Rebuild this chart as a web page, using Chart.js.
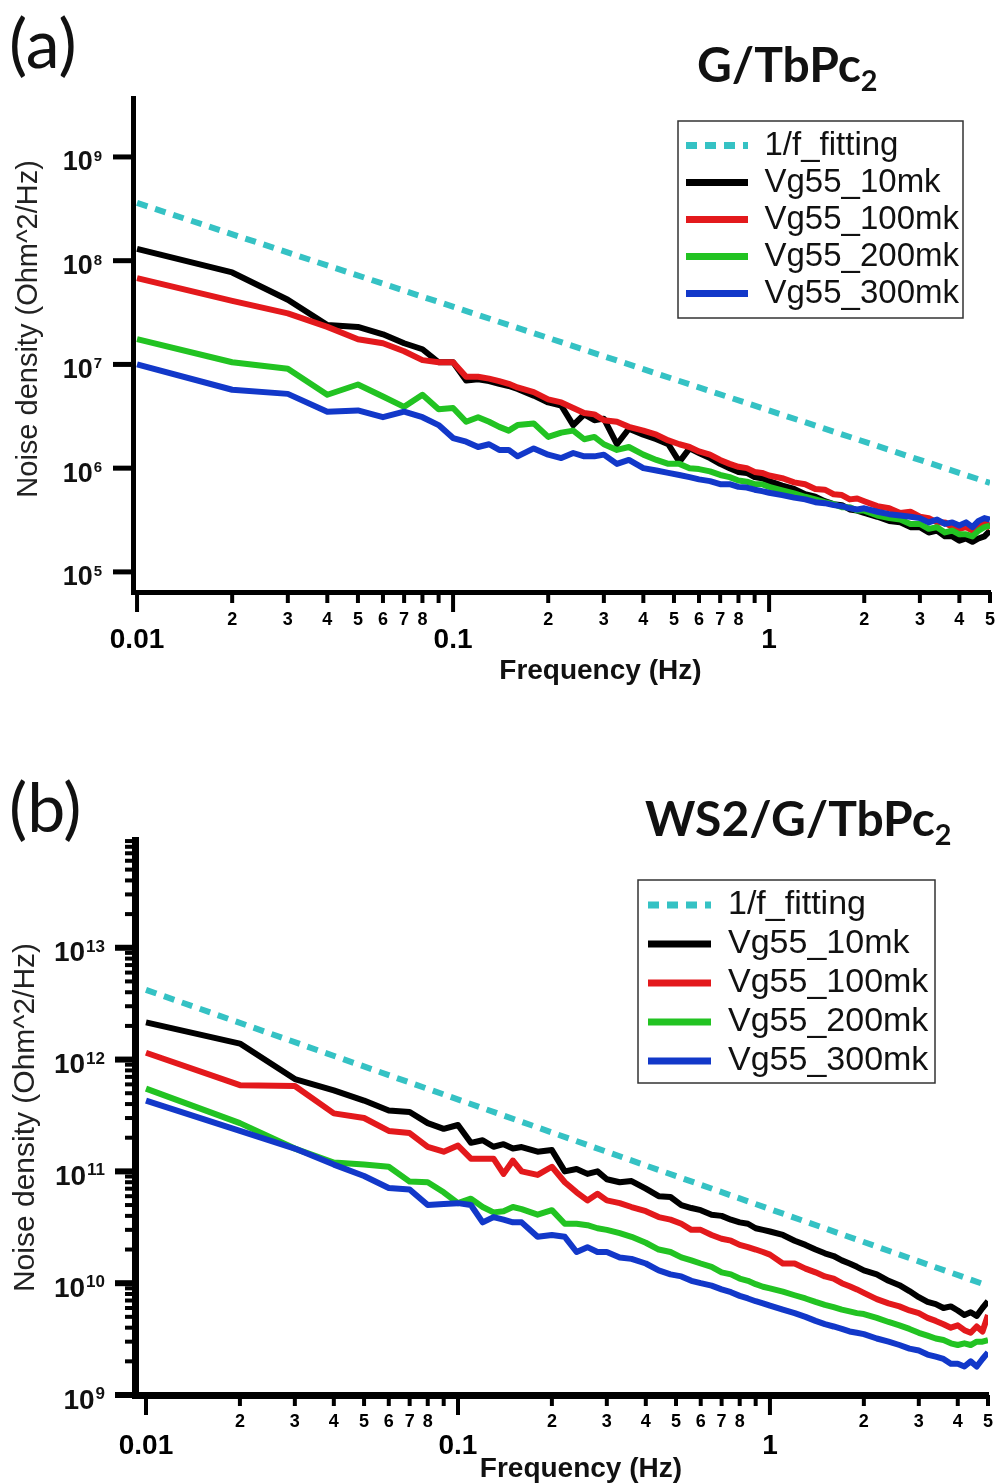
<!DOCTYPE html>
<html>
<head>
<meta charset="utf-8">
<script src="https://cdn.jsdelivr.net/npm/chart.js@4.4.1/dist/chart.umd.min.js"></script>
<style>
  body { margin: 0; background: #fff; width: 995px; height: 1483px; position: relative; overflow: hidden; }
  canvas { position: absolute; left: 0; }
  .lab { position: absolute; font-family: Lato, 'Open Sans', sans-serif; color: #111; line-height: 1; white-space: nowrap; }
  .panel { font-size: 68px; }
  .sample { font-weight: bold; font-size: 48px; }
  .sample sub { font-size: 0.6em; vertical-align: -0.3em; }
</style>
</head>
<body>
<canvas id="chartA" width="995" height="700" style="top:0"></canvas>
<canvas id="chartB" width="995" height="743" style="top:740px"></canvas>
<div class="lab panel" style="left:9px; top:8px">(a)</div>
<div class="lab sample" style="left:697px; top:40px">G/TbPc<sub>2</sub></div>
<div class="lab panel" style="left:9px; top:772px">(b)</div>
<div class="lab sample" style="left:645px; top:794px">WS2/G/TbPc<sub>2</sub></div>
<script>
const seriesNames = ['1/f_fitting', 'Vg55_10mk', 'Vg55_100mk', 'Vg55_200mk', 'Vg55_300mk'];
const seriesColors = ['#35c2c4', '#000000', '#e3191c', '#22c322', '#1238c9'];

// frequency (Hz) of the plotted points
const freq = [0.01, 0.02, 0.03, 0.04, 0.05, 0.06, 0.07, 0.08, 0.09, 0.10,
  0.11, 0.12, 0.13, 0.14, 0.15, 0.16, 0.18, 0.20, 0.22, 0.24,
  0.26, 0.28, 0.30, 0.33, 0.36, 0.40, 0.44, 0.48, 0.52, 0.56,
  0.60, 0.65, 0.70, 0.75, 0.80, 0.85, 0.90, 0.95, 1.0, 1.1,
  1.2, 1.3, 1.4, 1.5, 1.6, 1.7, 1.8, 1.9, 2.0, 2.2,
  2.4, 2.6, 2.8, 3.0, 3.2, 3.4, 3.6, 3.8, 4.0, 4.2,
  4.4, 4.6, 4.8, 5.0];
const fitFreq = [0.01, 5];

// (a) G/TbPc2
const fitA = [3.6e8, 7.2e5];
const a10mk = [1.3e8, 7.7e7, 4.2e7, 2.4e7, 2.3e7, 1.95e7, 1.6e7, 1.4e7, 1.05e7, 1.05e7,
  7.0e6, 7.2e6, 6.9e6, 6.5e6, 6.2e6, 5.8e6, 5.0e6, 4.3e6, 4.0e6, 2.6e6,
  3.3e6, 2.9e6, 3.0e6, 1.7e6, 2.4e6, 2.1e6, 1.9e6, 1.7e6, 1.15e6, 1.55e6,
  1.4e6, 1.25e6, 1.1e6, 1.0e6, 9.2e5, 9.0e5, 8.2e5, 8.0e5, 7.5e5, 6.8e5,
  6.3e5, 5.6e5, 5.3e5, 4.8e5, 4.5e5, 4.4e5, 4.0e5, 3.9e5, 3.7e5, 3.4e5,
  3.1e5, 3.0e5, 2.7e5, 2.7e5, 2.4e5, 2.5e5, 2.2e5, 2.2e5, 2.0e5, 2.1e5,
  1.95e5, 2.1e5, 2.2e5, 2.5e5];
const a100mk = [6.8e7, 4.1e7, 3.1e7, 2.3e7, 1.75e7, 1.6e7, 1.34e7, 1.1e7, 1.05e7, 1.05e7,
  7.6e6, 7.6e6, 7.3e6, 6.9e6, 6.5e6, 6.0e6, 5.4e6, 4.6e6, 4.3e6, 3.8e6,
  3.4e6, 3.3e6, 2.9e6, 2.8e6, 2.5e6, 2.3e6, 2.1e6, 1.85e6, 1.7e6, 1.6e6,
  1.45e6, 1.35e6, 1.2e6, 1.1e6, 1.03e6, 1.0e6, 9.2e5, 9.0e5, 8.5e5, 8.0e5,
  7.3e5, 7.0e5, 6.3e5, 6.2e5, 5.6e5, 5.5e5, 5.0e5, 5.1e5, 4.8e5, 4.3e5,
  4.1e5, 3.7e5, 3.8e5, 3.4e5, 3.3e5, 3.0e5, 3.0e5, 2.7e5, 2.6e5, 2.7e5,
  2.5e5, 2.6e5, 3.2e5, 2.6e5];
const a200mk = [1.75e7, 1.05e7, 9.1e6, 5.1e6, 6.4e6, 4.9e6, 3.9e6, 5.1e6, 3.7e6, 3.8e6,
  2.8e6, 3.1e6, 2.8e6, 2.5e6, 2.3e6, 2.6e6, 2.7e6, 2.0e6, 2.2e6, 2.3e6,
  1.9e6, 2.0e6, 1.7e6, 1.5e6, 1.6e6, 1.35e6, 1.2e6, 1.1e6, 1.1e6, 1.0e6,
  9.8e5, 9.3e5, 8.6e5, 8.2e5, 7.6e5, 7.4e5, 7.0e5, 7.0e5, 6.6e5, 6.1e5,
  5.7e5, 5.3e5, 5.0e5, 4.7e5, 4.5e5, 4.2e5, 4.2e5, 3.9e5, 3.9e5, 3.5e5,
  3.3e5, 3.2e5, 2.9e5, 2.9e5, 2.6e5, 2.7e5, 2.4e5, 2.5e5, 2.3e5, 2.3e5,
  2.2e5, 2.5e5, 2.7e5, 2.8e5];
const a300mk = [1.0e7, 5.7e6, 5.2e6, 3.5e6, 3.6e6, 3.1e6, 3.5e6, 3.1e6, 2.6e6, 1.95e6,
  1.8e6, 1.6e6, 1.7e6, 1.5e6, 1.5e6, 1.3e6, 1.55e6, 1.35e6, 1.25e6, 1.4e6,
  1.3e6, 1.3e6, 1.35e6, 1.1e6, 1.2e6, 1.0e6, 9.5e5, 9.0e5, 8.6e5, 8.2e5,
  7.8e5, 7.5e5, 7.0e5, 7.0e5, 6.6e5, 6.5e5, 6.2e5, 6.0e5, 5.8e5, 5.5e5,
  5.2e5, 5.0e5, 4.7e5, 4.6e5, 4.4e5, 4.3e5, 4.1e5, 4.0e5, 4.1e5, 3.8e5,
  3.6e5, 3.5e5, 3.4e5, 3.3e5, 3.0e5, 3.2e5, 2.9e5, 3.0e5, 2.8e5, 3.0e5,
  2.7e5, 3.1e5, 3.3e5, 3.2e5];

// (b) WS2/G/TbPc2
const fitB = [4.2e12, 9.5e9];
const b10mk = [2.15e12, 1.39e12, 6.7e11, 5.3e11, 4.3e11, 3.5e11, 3.4e11, 2.7e11, 2.4e11, 2.6e11,
  1.8e11, 1.9e11, 1.66e11, 1.75e11, 1.6e11, 1.65e11, 1.5e11, 1.55e11, 1.0e11, 1.05e11,
  9.5e10, 1.0e11, 8.5e10, 8.0e10, 8.2e10, 7.0e10, 6.0e10, 5.9e10, 5.0e10, 4.7e10,
  4.5e10, 4.1e10, 4.0e10, 3.7e10, 3.5e10, 3.4e10, 3.1e10, 3.0e10, 2.9e10, 2.7e10,
  2.4e10, 2.2e10, 2.0e10, 1.85e10, 1.75e10, 1.6e10, 1.5e10, 1.4e10, 1.3e10, 1.2e10,
  1.05e10, 9.6e9, 8.5e9, 7.5e9, 6.8e9, 6.5e9, 6.0e9, 6.2e9, 5.7e9, 5.2e9,
  5.5e9, 5.1e9, 6.0e9, 6.9e9];
const b100mk = [1.15e12, 5.9e11, 5.8e11, 3.3e11, 3.0e11, 2.3e11, 2.2e11, 1.66e11, 1.5e11, 1.7e11,
  1.3e11, 1.3e11, 1.3e11, 9.5e10, 1.25e11, 1.0e11, 9.3e10, 1.1e11, 8.0e10, 6.5e10,
  5.5e10, 6.3e10, 5.5e10, 5.2e10, 4.8e10, 4.4e10, 3.9e10, 3.7e10, 3.4e10, 3.0e10,
  3.0e10, 2.7e10, 2.5e10, 2.4e10, 2.2e10, 2.1e10, 2.0e10, 1.9e10, 1.8e10, 1.5e10,
  1.5e10, 1.35e10, 1.25e10, 1.15e10, 1.1e10, 1.0e10, 9.4e9, 8.8e9, 8.2e9, 7.2e9,
  6.6e9, 6.2e9, 5.7e9, 5.4e9, 4.9e9, 4.6e9, 4.3e9, 4.0e9, 4.2e9, 3.8e9,
  3.6e9, 4.1e9, 3.7e9, 5.2e9];
const b200mk = [5.5e11, 2.7e11, 1.6e11, 1.2e11, 1.15e11, 1.1e11, 8.1e10, 8.0e10, 6.5e10, 5.2e10,
  5.7e10, 4.8e10, 4.3e10, 4.4e10, 4.8e10, 4.6e10, 4.1e10, 4.5e10, 3.4e10, 3.4e10,
  3.3e10, 3.1e10, 3.0e10, 2.8e10, 2.6e10, 2.3e10, 2.0e10, 1.9e10, 1.7e10, 1.6e10,
  1.5e10, 1.4e10, 1.25e10, 1.2e10, 1.1e10, 1.05e10, 9.8e9, 9.3e9, 9.0e9, 8.4e9,
  7.8e9, 7.3e9, 6.8e9, 6.4e9, 6.1e9, 5.8e9, 5.6e9, 5.4e9, 5.3e9, 4.9e9,
  4.5e9, 4.2e9, 3.9e9, 3.6e9, 3.4e9, 3.2e9, 3.1e9, 2.9e9, 2.8e9, 2.9e9,
  2.8e9, 3.0e9, 3.0e9, 3.1e9];
const b300mk = [4.3e11, 2.3e11, 1.6e11, 1.15e11, 9.1e10, 7.1e10, 6.9e10, 5.0e10, 5.1e10, 5.2e10,
  5.0e10, 3.5e10, 3.9e10, 3.7e10, 3.5e10, 3.5e10, 2.6e10, 2.7e10, 2.6e10, 1.9e10,
  2.1e10, 1.9e10, 1.9e10, 1.7e10, 1.65e10, 1.5e10, 1.3e10, 1.2e10, 1.15e10, 1.05e10,
  1.0e10, 9.5e9, 8.8e9, 8.3e9, 7.7e9, 7.3e9, 6.9e9, 6.6e9, 6.3e9, 5.8e9,
  5.4e9, 5.0e9, 4.6e9, 4.3e9, 4.1e9, 3.9e9, 3.7e9, 3.6e9, 3.5e9, 3.2e9,
  3.0e9, 2.8e9, 2.6e9, 2.5e9, 2.3e9, 2.2e9, 2.1e9, 1.9e9, 1.9e9, 1.8e9,
  2.0e9, 1.8e9, 2.1e9, 2.4e9];

// axis ticks
const xTicks = [0.01, 0.02, 0.03, 0.04, 0.05, 0.06, 0.07, 0.08, 0.09,
  0.1, 0.2, 0.3, 0.4, 0.5, 0.6, 0.7, 0.8, 0.9, 1, 2, 3, 4, 5];
const xMajorTicks = [0.01, 0.1, 1];
const yTicksA = [1e5, 1e6, 1e7, 1e8, 1e9];
const yTicksB = [1e9, 2e9, 3e9, 4e9, 5e9, 6e9, 7e9, 8e9, 9e9,
  1e10, 2e10, 3e10, 4e10, 5e10, 6e10, 7e10, 8e10, 9e10,
  1e11, 2e11, 3e11, 4e11, 5e11, 6e11, 7e11, 8e11, 9e11,
  1e12, 2e12, 3e12, 4e12, 5e12, 6e12, 7e12, 8e12, 9e12,
  1e13, 2e13, 3e13, 4e13, 5e13, 6e13, 7e13, 8e13, 9e13];

const ARIAL = "'Liberation Sans', Arial, sans-serif";

function isDecade(v) {
  const l = Math.log10(v);
  return Math.abs(l - Math.round(l)) < 1e-9;
}
function minorLabel(v) {
  if (isDecade(v)) return '';
  const d = Math.round(v / Math.pow(10, Math.floor(Math.log10(v) + 1e-9)));
  return d === 9 ? '' : String(d);
}
function pts(xs, ys) {
  return xs.map((x, i) => ({x: x, y: ys[i]}));
}

// tick marks (major longer), 10^n labels with raised exponent, legend frame
const axisDecor = {
  id: 'axisDecor',
  afterDraw(chart, args, o) {
    const ctx = chart.ctx, a = chart.chartArea;
    const xs = chart.scales.x, ys = chart.scales.y;
    ctx.save();
    ctx.strokeStyle = '#000';
    xs.ticks.forEach(t => {
      const px = xs.getPixelForValue(t.value);
      const major = isDecade(t.value);
      ctx.lineWidth = major ? o.xMajorW : o.xMinorW;
      ctx.beginPath();
      ctx.moveTo(px, a.bottom);
      ctx.lineTo(px, a.bottom + (major ? o.xMajor : o.xMinor));
      ctx.stroke();
    });
    ys.ticks.forEach(t => {
      const py = ys.getPixelForValue(t.value);
      const major = isDecade(t.value);
      ctx.lineWidth = major ? o.yMajorW : o.yMinorW;
      ctx.beginPath();
      ctx.moveTo(a.left, py);
      ctx.lineTo(a.left - (major ? o.yMajor : o.yMinor), py);
      ctx.stroke();
      if (!major) return;
      const e = String(Math.round(Math.log10(t.value)));
      const right = a.left - o.labGap;
      ctx.fillStyle = '#111';
      ctx.textAlign = 'right';
      ctx.textBaseline = 'alphabetic';
      ctx.font = 'bold ' + o.expSize + 'px ' + ARIAL;
      const ew = ctx.measureText(e).width;
      ctx.fillText(e, right, py + 4);
      ctx.font = 'bold ' + o.baseSize + 'px ' + ARIAL;
      ctx.textBaseline = 'middle';
      ctx.fillText('10', right - ew - 1, py + 6);
    });
    ctx.lineWidth = 1.5;
    ctx.strokeStyle = '#333';
    ctx.strokeRect(o.frame[0], o.frame[1], o.frame[2], o.frame[3]);
    ctx.restore();
  }
};

// move the legend inside the plot, top right
const placeLegend = {
  id: 'placeLegend',
  afterLayout(chart, args, o) {
    chart.legend.left = o.left;
    chart.legend.top = o.top;
  }
};

function makeChart(id, p) {
  const sets = [p.fit, p.s10, p.s100, p.s200, p.s300];
  const datasets = sets.map((vals, i) => ({
    label: seriesNames[i],
    data: pts(i === 0 ? fitFreq : freq, vals),
    borderColor: seriesColors[i],
    backgroundColor: seriesColors[i],
    borderWidth: 6,
    borderDash: i === 0 ? [11, 8] : [],
    borderJoinStyle: 'round',
    pointRadius: 0,
    tension: 0,
    order: i === 0 ? 0 : 5 - i
  }));

  const noSidePad = s => { s.paddingLeft = 0; s.paddingRight = 0; };

  return new Chart(document.getElementById(id), {
    type: 'line',
    data: {datasets: datasets},
    plugins: [axisDecor, placeLegend],
    options: {
      responsive: false,
      animation: false,
      layout: {padding: {top: p.padTop, right: p.padRight, left: 0, bottom: 0}},
      plugins: {
        tooltip: {enabled: false},
        legend: {
          position: 'chartArea',
          align: 'start',
          labels: {
            usePointStyle: true,
            pointStyle: 'line',
            pointStyleWidth: p.legendLine,
            padding: p.legendPad,
            color: '#111',
            font: {family: ARIAL, size: p.legendFont},
            sort: (a, b) => a.datasetIndex - b.datasetIndex,
            generateLabels: chart => Chart.defaults.plugins.legend.labels.generateLabels(chart)
              .map(it => Object.assign(it, {
                lineWidth: 7,
                lineDash: chart.data.datasets[it.datasetIndex].borderDash
              }))
          }
        },
        placeLegend: p.legendPos,
        axisDecor: p.marks
      },
      scales: {
        x: {
          type: 'logarithmic',
          min: p.xMin, max: 5,
          weight: 0,
          afterBuildTicks: s => { s.ticks = xTicks.map(v => ({value: v})); },
          afterFit: s => { s.height = p.xH; noSidePad(s); },
          border: {display: true, width: p.axisW, color: '#000'},
          grid: {display: false, drawTicks: false},
          ticks: {
            autoSkip: false, maxRotation: 0, padding: p.xPad, color: '#000',
            font: {family: ARIAL, size: 18, weight: 'bold'},
            callback: v => minorLabel(v)
          }
        },
        x2: {
          type: 'logarithmic',
          position: 'bottom',
          min: p.xMin, max: 5,
          weight: 1,
          afterBuildTicks: s => { s.ticks = xMajorTicks.map(v => ({value: v})); },
          afterFit: s => { s.height = p.x2H; noSidePad(s); },
          border: {display: false},
          grid: {display: false, drawTicks: false},
          ticks: {
            autoSkip: false, maxRotation: 0, padding: p.x2Pad, color: '#000',
            font: {family: ARIAL, size: 28, weight: 'bold', lineHeight: 1},
            callback: v => String(v)
          },
          title: {
            display: true, text: p.xTitle, color: '#111',
            font: {family: ARIAL, size: 28, weight: 'bold', lineHeight: 1},
            padding: {top: 0, bottom: p.titlePad}
          }
        },
        y: {
          type: 'logarithmic',
          min: p.yMin, max: p.yMax,
          afterBuildTicks: s => { s.ticks = p.yTicks.map(v => ({value: v})); },
          afterFit: s => { s.width = p.yW; },
          border: {display: true, width: p.axisW, color: '#000'},
          grid: {display: false, drawTicks: false},
          ticks: {display: false},
          title: {
            display: true, text: p.yTitle, color: '#222',
            font: {family: ARIAL, size: p.yTitleFont},
            padding: {top: p.yTitlePad, bottom: 0}
          }
        }
      }
    }
  });
}

makeChart('chartA', {
  fit: fitA, s10: a10mk, s100: a100mk, s200: a200mk, s300: a300mk,
  xMin: 0.00971, yMin: 6.4e4, yMax: 3.7e9, yTicks: yTicksA,
  padTop: 98, padRight: 5, yW: 133, xH: 36, x2H: 72,
  xPad: 17, x2Pad: -2, titlePad: 15, yTitleFont: 29, yTitlePad: 12,
  xTitle: '          Frequency (Hz)', yTitle: '    Noise density (Ohm^2/Hz)',
  axisW: 5, legendFont: 33, legendPad: 4, legendLine: 62,
  legendPos: {left: 682, top: 125},
  marks: {xMajor: 20, xMinor: 11, xMajorW: 4, xMinorW: 4, yMajor: 20, yMinor: 10, yMajorW: 5, yMinorW: 4,
    labGap: 31, baseSize: 27, expSize: 15, frame: [678, 121, 285, 197]}
});

makeChart('chartB', {
  fit: fitB, s10: b10mk, s100: b100mk, s200: b200mk, s300: b300mk,
  xMin: 0.00922, yMin: 1e9, yMax: 9.2e13, yTicks: yTicksB,
  padTop: 100, padRight: 7, yW: 135, xH: 35, x2H: 53,
  xPad: 16, x2Pad: 2, titlePad: 0, yTitleFont: 30, yTitlePad: 8,
  xTitle: '     Frequency (Hz)', yTitle: 'Noise density (Ohm^2/Hz)',
  axisW: 7, legendFont: 34, legendPad: 5, legendLine: 63,
  legendPos: {left: 643, top: 143},
  marks: {xMajor: 20, xMinor: 11, xMajorW: 4, xMinorW: 4, yMajor: 20, yMinor: 10, yMajorW: 6, yMinorW: 4,
    labGap: 30, baseSize: 28, expSize: 17, frame: [638, 140, 297, 203]}
});
</script>
</body>
</html>
